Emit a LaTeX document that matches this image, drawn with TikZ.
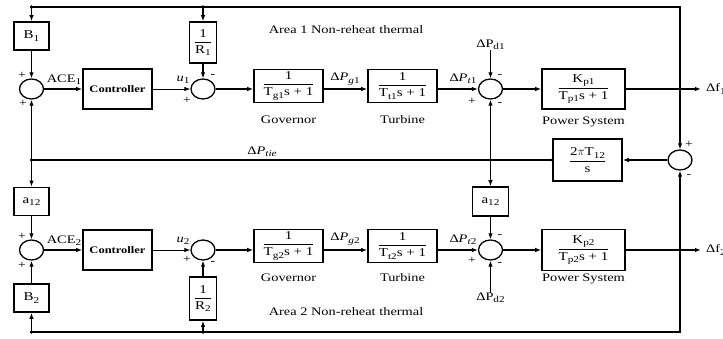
\documentclass[tikz,border=0pt]{standalone}
\usepackage{fontspec}
\setmainfont{Liberation Serif}[FakeStretch=1.25]
\usetikzlibrary{arrows.meta,shapes.geometric}
\newcommand\sbs[1]{\raisebox{-0.45ex}{\fontsize{9}{9}\selectfont #1}}
\newcommand\bfr[2]{$\displaystyle\frac{\mbox{#1}}{\mbox{#2}}$}
\begin{document}
\begin{tikzpicture}[x=1pt,y=-1pt,
  blk/.style={draw,line width=1.6pt,inner sep=1pt,font=\fontsize{12}{13}\selectfont},
  ctl/.style={blk,font=\bfseries\fontsize{10}{10}\selectfont,minimum width=69pt,minimum height=40pt},
  sumn/.style={draw,ellipse,line width=1.3pt,minimum width=24pt,minimum height=20pt,inner sep=0pt},
  sig/.style={line width=1.4pt,-{Latex[length=6pt,width=4.5pt]}},
  wire/.style={line width=1.4pt},
  jdot/.style={circle,fill,inner sep=0pt,minimum size=3.8pt},
  lbl/.style={font=\fontsize{11.5}{13}\selectfont,inner sep=0pt},
  sgn/.style={font=\fontsize{11}{11}\selectfont,inner sep=0pt},
]
\useasboundingbox (0,0) rectangle (723,338);
\fill[white] (0,0) rectangle (723,338);

% ---------- Area 1 ----------
\node[sumn] (s1) at (31.5,89) {};
\node[blk,minimum width=35pt,minimum height=28pt] (B1) at (31.5,36) {B\sbs{1}};
\node[blk,minimum width=27pt,minimum height=41pt] (R1) at (203,42.5) {\bfr{1}{R\sbs{1}}};
\node[ctl] (C1) at (117.5,89) {Controller};
\node[sumn] (su1) at (203,89) {};
\node[blk,minimum width=69pt,minimum height=33pt] (G1) at (288.5,86) {\bfr{1}{T\sbs{g1}s + 1}};
\node[blk,minimum width=69pt,minimum height=33pt] (T1) at (402.5,86) {\bfr{1}{T\sbs{t1}s + 1}};
\node[sumn] (sd1) at (490.5,89) {};
\node[blk,minimum width=83pt,minimum height=40pt] (P1) at (583.5,89) {\bfr{K\sbs{p1}}{T\sbs{p1}s + 1}};
\node[jdot] (jf1) at (680,89) {};
\coordinate (f1end) at (701,89);
\node[lbl,anchor=west] (f1lbl) at (706,89) {Δf\sbs{1}};
\coordinate (tr) at (680,7);
\node[jdot] (jtl) at (31.5,7) {};
\node[jdot] (jtm) at (203,7) {};
\node[lbl] (Pd1) at (490.5,45) {ΔP\sbs{d1}};

\node[lbl] (ar1) at (346,30) {Area 1 Non-reheat thermal};
\node[lbl] (gl1) at (288.5,120) {Governor};
\node[lbl] (tl1) at (402.5,120) {Turbine};
\node[lbl] (pl1) at (583.5,122) {Power System};

\node[lbl] (ace1) at (64,80) {ACE\sbs{1}};
\node[lbl] (u1) at (183,80) {\textit{u}\sbs{1}};
\node[lbl] (pg1) at (345,79) {Δ\textit{P}\sbs{\textit{g}1}};
\node[lbl] (pt1) at (463,79) {Δ\textit{P}\sbs{\textit{t}1}};

% ---------- Tie line ----------
\node[sumn] (s3) at (680,160) {};
\node[blk,minimum width=69pt,minimum height=42pt] (Tie) at (587.5,160) {\bfr{2$\pi$T\sbs{12}}{s}};
\node[jdot] (jtb) at (Tie.west) {};
\node[jdot] (jtm2) at (490.5,160) {};
\node[jdot] (jtl2) at (31.5,160) {};
\node[lbl] (ptie) at (262,152) {Δ\textit{P}\sbs{\textit{tie}}};
\node[blk,minimum width=35pt,minimum height=28pt] (A12L) at (31.5,201.5) {a\sbs{12}};
\node[blk,minimum width=36pt,minimum height=29pt] (A12M) at (490.5,201.5) {a\sbs{12}};

% ---------- Area 2 ----------
\node[sumn] (s4) at (31.5,250) {};
\node[blk,minimum width=35pt,minimum height=28pt] (B2) at (31.5,298) {B\sbs{2}};
\node[ctl] (C2) at (117.5,250) {Controller};
\node[sumn] (su2) at (203,250) {};
\node[blk,minimum width=27pt,minimum height=43pt] (R2) at (203,298.5) {\bfr{1}{R\sbs{2}}};
\node[blk,minimum width=69pt,minimum height=33pt] (G2) at (288.5,246) {\bfr{1}{T\sbs{g2}s + 1}};
\node[blk,minimum width=69pt,minimum height=33pt] (T2) at (402.5,246) {\bfr{1}{T\sbs{t2}s + 1}};
\node[sumn] (sd2) at (490.5,250) {};
\node[blk,minimum width=83pt,minimum height=41pt] (P2) at (583.5,250) {\bfr{K\sbs{p2}}{T\sbs{p2}s + 1}};
\node[jdot] (jf2) at (680,250) {};
\coordinate (f2end) at (701,250);
\node[lbl,anchor=west] (f2lbl) at (706,250) {Δf\sbs{2}};
\coordinate (brc) at (680,332);
\node[jdot] (jbl) at (31.5,332) {};
\node[jdot] (jbm) at (203,332) {};
\node[lbl] (Pd2) at (490.5,298) {ΔP\sbs{d2}};

\node[lbl] (ar2) at (346,312) {Area 2 Non-reheat thermal};
\node[lbl] (gl2) at (288.5,278) {Governor};
\node[lbl] (tl2) at (402.5,278) {Turbine};
\node[lbl] (pl2) at (583.5,279) {Power System};

\node[lbl] (ace2) at (64,241) {ACE\sbs{2}};
\node[lbl] (u2) at (183,241) {\textit{u}\sbs{2}};
\node[lbl] (pg2) at (345,239) {Δ\textit{P}\sbs{\textit{g}2}};
\node[lbl] (pt2) at (463,240) {Δ\textit{P}\sbs{\textit{t}2}};

% ---------- signs ----------
\node[sgn] (g1) at (22,75) {+};
\node[sgn] (g2) at (23,103) {+};
\node[sgn] (g3) at (213,76) {-};
\node[sgn] (g4) at (187,100) {+};
\node[sgn] (g5) at (500,76) {-};
\node[sgn] (g6) at (500,104) {-};
\node[sgn] (g7) at (472,101) {+};
\node[sgn] (g8) at (689,144) {+};
\node[sgn] (g9) at (689,176) {-};
\node[sgn] (g10) at (22,236) {+};
\node[sgn] (g11) at (22,265) {+};
\node[sgn] (g12) at (187,259) {+};
\node[sgn] (g13) at (213,263) {-};
\node[sgn] (g14) at (500,236) {-};
\node[sgn] (g15) at (500,264) {-};
\node[sgn] (g16) at (472,260) {+};

% ---------- connectors: area 1 ----------
\draw[wire] (P1.east) -- (jf1.center);
\draw[sig] (jf1.center) -- (f1end);
\draw[wire] (jf1.center) -- (tr) -- (jtl.center);
\draw[sig] (jf1.center) -- (s3.north);
\draw[sig] (jtl.center) -- (B1.north);
\draw[sig] (jtm.center) -- (R1.north);
\draw[sig] (B1.south) -- (s1.north);
\draw[sig] (R1.south) -- (su1.north);
\draw[sig] (s1.east) -- (C1.west);
\draw[sig,line width=0.8pt] (C1.east) -- (su1.west);
\draw[sig] (su1.east) -- (su1.east -| G1.west);
\draw[sig] (G1.east |- su1) -- (T1.west |- su1);
\draw[sig] (T1.east |- sd1) -- (sd1.west);
\draw[sig] (sd1.east) -- (P1.west);
\draw[sig] (Pd1.south) -- (sd1.north);

% ---------- tie ----------
\draw[sig] (s3.west) -- (Tie.east);
\draw[wire] (Tie.west) -- (jtl2.center);
\draw[sig] (jtl2.center) -- (s1.south);
\draw[sig] (jtl2.center) -- (A12L.north);
\draw[sig] (A12L.south) -- (s4.north);
\draw[sig] (jtm2.center) -- (sd1.south);
\draw[sig] (jtm2.center) -- (A12M.north);
\draw[sig] (A12M.south) -- (sd2.north);

% ---------- connectors: area 2 ----------
\draw[sig] (s4.east) -- (C2.west);
\draw[sig,line width=0.8pt] (C2.east) -- (su2.west);
\draw[sig] (su2.east) -- (su2.east -| G2.west);
\draw[sig] (G2.east |- su2) -- (T2.west |- su2);
\draw[sig] (T2.east |- sd2) -- (sd2.west);
\draw[sig] (sd2.east) -- (P2.west);
\draw[sig] (Pd2.north) -- (sd2.south);
\draw[wire] (P2.east) -- (jf2.center);
\draw[sig] (jf2.center) -- (f2end);
\draw[wire] (jf2.center) -- (brc) -- (jbl.center);
\draw[sig] (jf2.center) -- (s3.south);
\draw[sig] (jbl.center) -- (B2.south);
\draw[sig] (B2.north) -- (s4.south);
\draw[sig] (jbm.center) -- (R2.south);
\draw[sig] (R2.north) -- (su2.south);
\end{tikzpicture}
\end{document}
